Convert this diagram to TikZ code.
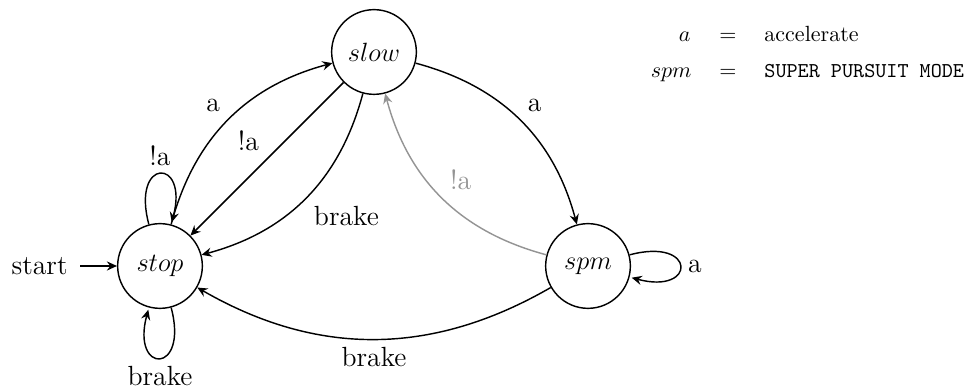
\documentclass[tikz,border=0pt]{standalone}
\usetikzlibrary{arrows.meta}
\begin{document}
\begin{tikzpicture}[x=0.4545pt,y=-0.4545pt,
  >={Stealth[length=4.6pt,width=4.2pt,inset=1.6pt]},
  big/.style={font=\fontsize{12.6}{15}\selectfont},
  statenode/.style={circle,draw,line width=0.65pt,minimum size=38.5pt,inner sep=0pt,big},
  lbl/.style={big,auto},
  trans/.style={->,line width=0.65pt},
  faded/.style={draw=black!42,text=black!42},
  legend/.style={font=\normalsize,inner sep=0pt}]
\useasboundingbox (0,0) rectangle (969,391);

% states
\node[statenode] (stop) at (160,266) {$stop$};
\node[statenode] (slow) at (374,52) {$slow$};
\node[statenode] (spm) at (588,266) {$spm$};

% initial marker
\node[big,inner sep=5.45pt,anchor=east] (start) at (80,266) {start};
\draw[trans] (start) -- (stop);

% transitions
\path[trans]
  (stop) edge[bend left] node[lbl] {a} (slow)
         edge[loop above] node[lbl] {!a} ()
         edge[loop below] node[lbl] {brake} ()
  (slow) edge node[lbl,swap] {!a} (stop)
         edge[bend left] node[lbl] {brake} (stop)
         edge[bend left] node[lbl] {a} (spm)
  (spm)  edge[loop right] node[lbl] {a} ()
         edge[bend left] node[lbl] {brake} (stop)
         edge[bend left,faded] node[lbl,swap] {!a} (slow);

% legend
\node[legend,anchor=base east] (la) at (691,42) {$a$};
\node[legend,anchor=base] (leqa) at (728,42) {$=$};
\node[legend,anchor=base west] (lta) at (764,42) {accelerate};
\node[legend,anchor=base east] (ls) at (692,78) {$spm$};
\node[legend,anchor=base] (leqs) at (728,78) {$=$};
\node[legend,anchor=base west] (lts) at (764,78) {\fontsize{9.6}{12}\selectfont\ttfamily SUPER PURSUIT MODE};
\end{tikzpicture}
\end{document}
